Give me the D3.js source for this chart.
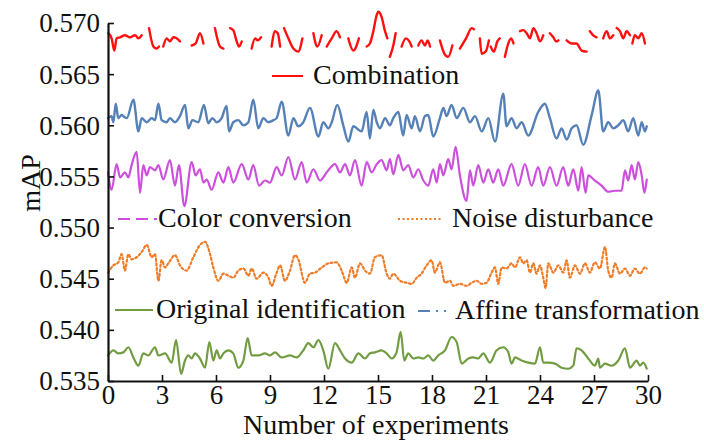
<!DOCTYPE html>
<html><head><meta charset="utf-8">
<script src="https://cdn.jsdelivr.net/npm/d3@7"></script>
<style>
html,body{margin:0;padding:0;background:#fff;}
svg{display:block;}
text{font-family:"Liberation Serif","Times New Roman",serif;fill:#111;}
</style></head>
<body>
<svg id="chart" width="704" height="441"></svg>
<script>
// ---- data: [experiment number, mAP]; null = break in the line ----
const combination = [
[0.02,0.5690],[0.20,0.5685],[0.35,0.5673],[0.48,0.5685],[0.67,0.5686],[0.94,0.5688],[1.22,0.5686],[1.5,0.5688],[1.69,0.5685],[1.87,0.5688],[2.0,null],
[2.28,0.5695],[2.52,0.5677],[2.7,0.5675],[2.83,0.5677],[2.95,null],
[3.07,0.5677],[3.26,0.5685],[3.44,0.5682],[3.63,0.5686],[3.81,0.5685],[4.0,0.5682],[4.3,null],
[4.65,0.5678],[4.87,0.5680],[5.11,0.5690],[5.3,0.5680],[5.6,null],
[5.94,0.5695],[6.22,0.5677],[6.41,0.5675],[6.6,null],
[6.78,0.5695],[6.96,0.5693],[7.15,0.5682],[7.28,0.5677],[7.43,0.5682],[7.7,null],
[7.98,0.5675],[8.17,0.5685],[8.31,0.5683],[8.5,0.5686],[8.8,null],
[9.09,0.5677],[9.28,0.5692],[9.43,0.5690],[9.56,0.5677],[9.67,null],
[9.78,0.5695],[10.02,0.5685],[10.3,0.5675],[10.57,0.5672],[10.8,0.5685],[11.1,null],
[11.41,0.5690],[11.63,0.5677],[11.87,0.5688],[12.0,null],
[12.15,0.5677],[12.43,0.5685],[12.7,0.5692],[12.89,0.5686],[13.1,null],
[13.35,0.5685],[13.63,0.5673],[13.94,0.5685],[14.15,null],
[14.37,0.5677],[14.55,0.5680],[14.74,0.5692],[14.93,0.5708],[15.02,0.5711],[15.2,0.5706],[15.39,0.5692],[15.52,0.5685],[15.6,null],
[15.66,0.5667],[15.85,0.5678],[15.98,0.5690],[16.15,null],
[16.31,0.5677],[16.55,0.5685],[16.74,0.5682],[16.87,0.5677],[17.05,null],
[17.24,0.5678],[17.42,0.5683],[17.61,0.5678],[17.76,0.5683],[17.89,0.5677],[18.2,null],
[18.44,0.5683],[18.72,0.5669],[18.9,0.5667],[19.13,0.5678],[19.35,null],
[19.55,0.5675],[19.92,0.5686],[20.2,0.5695],[20.33,0.5694],[20.5,null],
[20.66,0.5685],[20.76,0.5670],[20.98,0.5672],[21.16,0.5683],[21.21,null],
[21.26,0.5677],[21.44,0.5672],[21.63,0.5682],[21.76,0.5685],[21.9,null],
[22.05,0.5667],[22.24,0.5680],[22.39,0.5685],[22.53,0.5680],[22.7,null],
[22.89,0.5692],[23.07,0.5693],[23.26,0.5690],[23.44,0.5685],[23.63,0.5695],[23.81,0.5690],[24.0,0.5682],[24.18,0.5688],[24.35,null],
[24.55,0.5690],[24.74,0.5686],[24.89,0.5682],[25.02,0.5683],[25.25,null],
[25.48,0.5683],[25.76,0.5680],[26.03,0.5680],[26.31,0.5673],[26.59,0.5672],[26.68,null],
[26.77,0.5692],[26.96,0.5688],[27.14,0.5686],[27.3,null],
[27.51,0.5685],[27.7,0.5692],[27.89,0.5685],[28.07,0.5688],[28.16,null],
[28.26,0.5695],[28.44,0.5692],[28.63,0.5685],[28.81,0.5692],[29.0,0.5688],[29.06,null],
[29.13,0.5680],[29.27,0.5688],[29.46,0.5685],[29.65,0.5690],[29.83,0.5680]
];
const affine = [
[0,0.5607],[0.2,0.5609],[0.3,0.5603],[0.43,0.5621],[0.57,0.5607],[0.76,0.5610],[0.91,0.5608],[1.04,0.5607],[1.41,0.5625],[1.69,0.5594],[1.87,0.5607],[2.15,0.5603],[2.43,0.5607],[2.61,0.5605],[2.8,0.5621],[2.98,0.5605],[3.26,0.5603],[3.44,0.5607],[3.72,0.5603],[4.0,0.5609],[4.28,0.5620],[4.46,0.5597],[4.69,0.5605],[5.02,0.5603],[5.33,0.5620],[5.57,0.5602],[5.8,0.5607],[6.04,0.5603],[6.31,0.5607],[6.59,0.5619],[6.72,0.5594],[6.96,0.5603],[7.24,0.5605],[7.52,0.5600],[7.8,0.5603],[8.07,0.5625],[8.35,0.5597],[8.63,0.5607],[8.91,0.5603],[9.19,0.5605],[9.37,0.5607],[9.65,0.5623],[10.02,0.5590],[10.3,0.5607],[10.57,0.5599],[10.85,0.5603],[11.22,0.5617],[11.69,0.5589],[11.96,0.5603],[12.24,0.5597],[12.43,0.5603],[12.74,0.5620],[13.07,0.5600],[13.35,0.5584],[13.63,0.5599],[14.09,0.5594],[14.37,0.5613],[14.55,0.5587],[14.74,0.5615],[14.93,0.5603],
[15.11,0.5597],[15.39,0.5607],[15.66,0.5600],[15.85,0.5607],[16.13,0.5613],[16.4,0.5590],[16.59,0.5610],[16.87,0.5597],[17.05,0.5609],[17.33,0.5594],[17.61,0.5609],[17.79,0.5610],[18.07,0.5589],[18.44,0.5607],[18.63,0.5617],[18.81,0.5609],[19.09,0.5620],[19.37,0.5607],[19.74,0.5617],[20.11,0.5603],[20.39,0.5609],[20.76,0.5594],[21.13,0.5607],[21.5,0.5584],[21.96,0.5631],[22.14,0.5599],[22.42,0.5607],[22.7,0.5597],[22.98,0.5603],[23.35,0.5590],[23.9,0.5613],[24.27,0.5621],[24.55,0.5607],[24.92,0.5587],[25.2,0.5597],[25.48,0.5586],[25.76,0.5597],[26.03,0.5600],[26.4,0.5581],[26.87,0.5610],[27.24,0.5634],[27.51,0.5594],[27.79,0.5603],[28.07,0.5597],[28.35,0.5600],[28.63,0.5605],[28.9,0.5594],[29.18,0.5607],[29.46,0.5590],[29.65,0.5603],[29.83,0.5594],[29.93,0.5599]
];
const colorConv = [
[0,0.5554],[0.2,0.5537],[0.48,0.5562],[0.67,0.5549],[0.94,0.5554],[1.13,0.5549],[1.31,0.5561],[1.59,0.5574],[1.78,0.5534],[1.96,0.5561],[2.15,0.5551],[2.33,0.5559],[2.61,0.5556],[2.8,0.5561],[3.07,0.5547],[3.44,0.5566],[3.72,0.5541],[3.94,0.5561],[4.24,0.5521],[4.65,0.5564],[4.87,0.5551],[5.11,0.5557],[5.3,0.5544],[5.48,0.5547],[5.76,0.5537],[6.13,0.5554],[6.41,0.5544],[6.69,0.5559],[6.96,0.5544],[7.43,0.5562],[7.8,0.5547],[8.07,0.5561],[8.39,0.5541],[8.72,0.5546],[9.0,0.5544],[9.37,0.5559],[9.65,0.5551],[10.02,0.5569],[10.39,0.5547],[10.76,0.5564],[11.04,0.5544],[11.41,0.5557],[11.78,0.5546],[12.15,0.5554],[12.61,0.5562],[12.89,0.5554],[13.17,0.5562],[13.44,0.5551],[13.72,0.5566],[14.09,0.5541],[14.37,0.5564],[14.65,0.5554],[14.93,0.5562],
[15.2,0.5566],[15.48,0.5556],[15.66,0.5567],[15.85,0.5552],[16.13,0.5571],[16.4,0.5556],[16.68,0.5561],[16.96,0.5549],[17.24,0.5557],[17.52,0.5546],[17.79,0.5541],[18.07,0.5557],[18.26,0.5544],[18.44,0.5562],[18.63,0.5551],[18.9,0.5567],[19.09,0.5557],[19.31,0.5579],[19.55,0.5551],[19.92,0.5526],[20.11,0.5556],[20.29,0.5541],[20.57,0.5561],[20.85,0.5544],[21.13,0.5557],[21.4,0.5544],[21.68,0.5557],[21.96,0.5541],[22.42,0.5562],[22.79,0.5541],[23.16,0.5562],[23.53,0.5541],[23.9,0.5559],[24.18,0.5541],[24.55,0.5559],[24.92,0.5541],[25.29,0.5559],[25.57,0.5541],[25.85,0.5557],[26.13,0.5536],[26.31,0.5559],[26.53,0.5534],[26.68,0.5551],[27.05,0.5546],[27.42,0.5541],[27.79,0.5535],[28.16,0.5536],[28.53,0.5536],[28.72,0.5556],[28.9,0.5546],[29.09,0.5561],[29.27,0.5547],[29.46,0.5564],[29.65,0.5551],[29.8,0.5534],[29.93,0.5547]
];
const noise = [
[0,0.5456],[0.3,0.5463],[0.57,0.5466],[0.76,0.5474],[0.94,0.5458],[1.13,0.5474],[1.31,0.5469],[1.59,0.5471],[1.87,0.5476],[2.15,0.5483],[2.43,0.5471],[2.61,0.5474],[2.8,0.5448],[2.98,0.5468],[3.17,0.5461],[3.35,0.5465],[3.72,0.5473],[4.0,0.5463],[4.37,0.5458],[4.74,0.5471],[5.11,0.5483],[5.39,0.5486],[5.67,0.5474],[5.85,0.5461],[6.13,0.5448],[6.41,0.5455],[6.69,0.5453],[6.96,0.5451],[7.24,0.5458],[7.52,0.5460],[7.8,0.5453],[7.98,0.5460],[8.26,0.5450],[8.63,0.5456],[8.91,0.5451],[9.09,0.5443],[9.37,0.5456],[9.56,0.5463],[9.83,0.5448],[10.11,0.5458],[10.39,0.5473],[10.57,0.5469],[10.94,0.5446],[11.22,0.5455],[11.5,0.5456],[11.87,0.5461],[12.24,0.5465],[12.7,0.5466],[12.98,0.5458],[13.26,0.5446],[13.54,0.5461],[13.72,0.5451],[14.0,0.5465],[14.28,0.5458],[14.55,0.5455],[14.83,0.5471],
[15.2,0.5473],[15.48,0.5455],[15.66,0.5450],[15.85,0.5455],[16.22,0.5448],[16.59,0.5446],[16.87,0.5445],[17.15,0.5451],[17.42,0.5455],[17.7,0.5463],[17.98,0.5468],[18.16,0.5456],[18.44,0.5466],[18.72,0.5446],[19.0,0.5448],[19.18,0.5443],[19.55,0.5445],[19.92,0.5443],[20.2,0.5446],[20.48,0.5448],[20.76,0.5445],[21.03,0.5446],[21.31,0.5456],[21.5,0.5461],[21.68,0.5445],[21.87,0.5461],[22.14,0.5460],[22.42,0.5465],[22.61,0.5461],[22.89,0.5471],[23.07,0.5465],[23.26,0.5468],[23.44,0.5456],[23.63,0.5465],[23.81,0.5455],[24.0,0.5463],[24.18,0.5451],[24.31,0.5441],[24.46,0.5465],[24.74,0.5456],[25.02,0.5463],[25.29,0.5456],[25.48,0.5468],[25.66,0.5451],[25.94,0.5463],[26.22,0.5455],[26.5,0.5465],[26.77,0.5456],[27.05,0.5466],[27.33,0.5460],[27.61,0.5481],[27.79,0.5458],[27.98,0.5451],[28.16,0.5465],[28.44,0.5455],[28.72,0.5460],[29.0,0.5453],[29.27,0.5460],[29.55,0.5455],[29.83,0.5461],[29.93,0.5460]
];
const original = [
[0,0.5375],[0.3,0.5380],[0.57,0.5377],[0.85,0.5378],[1.13,0.5383],[1.41,0.5373],[1.69,0.5365],[1.96,0.5377],[2.24,0.5375],[2.61,0.5383],[2.8,0.5375],[3.17,0.5377],[3.54,0.5368],[3.78,0.5390],[4.06,0.5357],[4.28,0.5370],[4.46,0.5375],[4.65,0.5372],[4.83,0.5377],[5.11,0.5372],[5.39,0.5363],[5.63,0.5388],[5.85,0.5370],[6.04,0.5380],[6.22,0.5372],[6.41,0.5377],[6.69,0.5380],[6.96,0.5377],[7.24,0.5363],[7.52,0.5370],[7.76,0.5392],[7.98,0.5375],[8.35,0.5375],[8.72,0.5377],[9.0,0.5375],[9.28,0.5378],[9.65,0.5373],[10.11,0.5375],[10.48,0.5373],[10.85,0.5380],[11.13,0.5387],[11.41,0.5383],[11.69,0.5390],[11.96,0.5380],[12.24,0.5362],[12.61,0.5387],[12.89,0.5380],[13.17,0.5372],[13.54,0.5368],[13.91,0.5377],[14.28,0.5372],[14.55,0.5377],[14.83,0.5378],
[15.2,0.5380],[15.48,0.5377],[15.76,0.5372],[16.03,0.5378],[16.26,0.5398],[16.46,0.5370],[16.68,0.5377],[16.96,0.5372],[17.24,0.5373],[17.52,0.5372],[17.79,0.5375],[18.07,0.5370],[18.35,0.5375],[18.72,0.5380],[19.09,0.5393],[19.37,0.5388],[19.65,0.5367],[20.02,0.5372],[20.29,0.5373],[20.57,0.5372],[20.85,0.5377],[21.22,0.5368],[21.59,0.5380],[21.96,0.5383],[22.24,0.5378],[22.42,0.5367],[22.61,0.5373],[22.98,0.5370],[23.35,0.5368],[23.72,0.5367],[24.0,0.5383],[24.18,0.5368],[24.46,0.5368],[24.83,0.5367],[25.2,0.5363],[25.57,0.5362],[25.85,0.5365],[26.03,0.5382],[26.31,0.5380],[26.68,0.5372],[27.05,0.5365],[27.24,0.5372],[27.33,0.5363],[27.61,0.5367],[27.98,0.5365],[28.35,0.5370],[28.72,0.5382],[29.0,0.5363],[29.37,0.5370],[29.55,0.5365],[29.74,0.5368],[29.93,0.5362]
];
const xTicks = [0,3,6,9,12,15,18,21,24,27,30];
const yTicks = [0.535,0.540,0.545,0.550,0.555,0.560,0.565,0.570];

// ---- layout ----
const svg = d3.select("#chart");
const x = d3.scaleLinear().domain([0,30]).range([108,648]);
const y = d3.scaleLinear().domain([0.535,0.570]).range([381,23]);
const FS = 27, LFS = 28;

const line = d3.line()
  .defined(d => d[1] !== null)
  .x(d => x(d[0])).y(d => y(d[1]))
  .curve(d3.curveMonotoneX);

const series = [
  {data: combination, color:"#ff1010", width:2.4, dash:null},
  {data: affine, color:"#5580b8", width:2.4, dash:null},
  {data: colorConv, color:"#cc50dc", width:2.2, dash:null},
  {data: noise, color:"#f07c28", width:2.2, dash:"2,2.5"},
  {data: original, color:"#729c42", width:2.2, dash:null}
];
series.forEach(s => {
  svg.append("path").datum(s.data)
    .attr("d", line).attr("fill","none")
    .attr("stroke", s.color).attr("stroke-width", s.width)
    .attr("stroke-linejoin","round").attr("stroke-linecap","round")
    .attr("stroke-dasharray", s.dash);
});

// axes
const xAxis = svg.append("g").attr("transform","translate(0,381)")
  .call(d3.axisBottom(x).tickValues(xTicks).tickSizeInner(-6).tickSizeOuter(0).tickPadding(4).tickFormat(d3.format("d")));
const yAxis = svg.append("g").attr("transform","translate(108,0)")
  .call(d3.axisLeft(y).tickValues(yTicks).tickSizeInner(-6).tickSizeOuter(0).tickPadding(8).tickFormat(d3.format(".3f")));
[xAxis,yAxis].forEach(g => {
  g.select(".domain").attr("stroke","#111").attr("stroke-width",2.2);
  g.selectAll(".tick line").attr("stroke","#111").attr("stroke-width",1.6);
  g.selectAll("text").attr("font-family","Liberation Serif, Times New Roman, serif").attr("font-size",FS).attr("fill","#111");
});
yAxis.selectAll("text").attr("dy","0.33em");
xAxis.selectAll("text").attr("dy","0.71em");

// axis titles
svg.append("text").attr("x",376).attr("y",434).attr("text-anchor","middle")
  .attr("font-size",LFS).text("Number of experiments");
svg.append("text").attr("transform","translate(40,183) rotate(-90)").attr("text-anchor","middle")
  .attr("font-size",LFS).text("mAP");

// legends
const legends = [
  {label:"Combination", color:"#ff1010", dash:null, x1:272, x2:303, ly:76, tx:313},
  {label:"Color conversion", color:"#cc50dc", dash:"12,6", x1:118, x2:157, ly:219, tx:158},
  {label:"Noise disturbance", color:"#f07c28", dash:"2,2.5", x1:398, x2:442, ly:219, tx:452},
  {label:"Original identification", color:"#729c42", dash:null, x1:115, x2:153, ly:310, tx:156},
  {label:"Affine transformation", color:"#5580b8", dash:"12,6,2,6,2,6", x1:418, x2:452, ly:311, tx:455}
];
legends.forEach(l => {
  svg.append("line").attr("x1",l.x1).attr("x2",l.x2).attr("y1",l.ly).attr("y2",l.ly)
    .attr("stroke",l.color).attr("stroke-width",2).attr("stroke-dasharray",l.dash);
  svg.append("text").attr("x",l.tx).attr("y",l.ly+8).attr("font-size",LFS).text(l.label);
});
</script>
</body></html>
